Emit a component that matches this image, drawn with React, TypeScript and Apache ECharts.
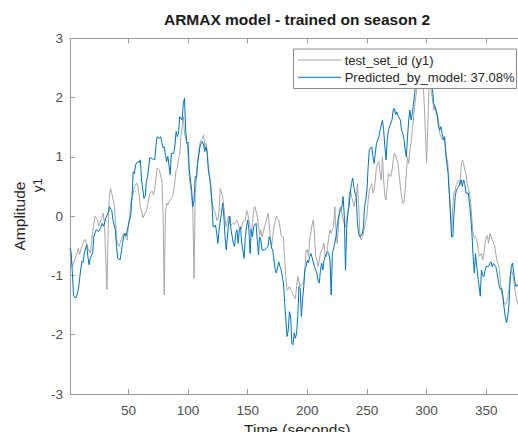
import React, { useEffect, useRef } from "react";
import * as echarts from "echarts";

const FONT = "'Liberation Sans', Arial, Helvetica, sans-serif";

const titleText = "ARMAX model - trained on season 2";
const xAxisTitle = "Time (seconds)";
const yGroupTitle = "Amplitude";
const yAxisTitle = "y1";
const measuredName = "test_set_id (y1)";
const predictedName = "Predicted_by_model: 37.08%";
const xTickValues = [50, 100, 150, 200, 250, 300, 350];

const measuredT = [1,3,5,8,9,11,13,14,16,18,19,20,22,24,25,27,29,30,31,32,33,34,35,36,38,39,40,41,42,44,46,47,49,50,51,52,54,55,57,58,59,60,61,62,64,65,66,68,70,71,72,73,74,76,77,78,79,80,81,82,83,85,87,88,89,90,91,92,93,94,95,96,97,99,100,101,103,104,105,106,107,108,110,111,112,113,114,115,116,117,119,120,121,122,123,124,125,126,127,129,130,131,132,133,134,135,136,138,139,140,141,142,143,144,145,146,148,149,150,151,152,153,154,155,156,158,159,160,161,162,163,164,165,167,168,169,170,171,172,173,174,176,177,178,179,180,181,182,183,185,186,187,188,189,190,191,192,194,195,197,198,199,200,201,202,204,205,206,207,208,209,210,211,213,214,215,216,217,218,219,220,222,223,224,225,226,227,228,229,230,232,233,234,235,236,237,238,239,241,242,243,244,245,246,247,248,250,251,252,253,254,255,256,257,258,260,261,262,263,264,265,266,267,268,270,271,272,273,274,275,276,277,278,279,280,281,282,283,284,285,286,287,288,290,291,293,295,297,298,299,300,301,302,303,304,305,306,307,309,310,311,312,313,314,315,316,318,319,320,321,322,323,324,325,327,328,329,330,331,332,333,334,336,337,338,339,340,341,342,343,344,346,347,348,349,350,351,352,353,355,356,357,358,359,360,361,362,363,364,366,367,368,369,370,371,372,373,374,375,376,377,379,381,382];
const measuredY = [-0.65,-0.85,-0.74,-0.54,-0.65,-0.51,-0.4,-0.4,-0.54,-0.62,-0.46,-0.26,0,-0.06,-0.17,-0.06,0.05,-0.17,-0.74,-1.24,-0.23,0.33,0.47,0.39,0.19,-0.06,-0.37,-0.48,-0.51,-0.4,-0.29,-0.34,-0.4,-0.17,0,0.22,0.39,0.5,0.56,0.5,0.36,0.16,0.1,-0.03,0.05,0.08,0.19,0.39,0.42,0.36,0.45,0.61,0.81,0.78,0.67,0.61,0.05,-1.33,0.05,0.22,0.19,0.28,0.33,0.44,0.61,0.78,0.81,0.99,1.03,1.34,1.51,1.68,1.4,1.23,1.06,0.67,0.33,0.1,-1.05,0.4,0.61,0.95,1.23,1.29,1.31,1.37,1.17,1.23,1.12,0.84,0.5,0.22,0.16,0.1,0.05,-0.07,-0.07,0.1,0.47,0.33,0.16,-0.07,-0.18,-0.07,0,-0.12,-0.15,-0.12,-0.14,-0.09,-0.07,-0.12,-0.2,-0.23,-0.18,-0.09,-0.07,0.1,0.05,-0.07,-0.18,-0.32,-0.12,0.1,0.16,0,-0.18,-0.32,-0.23,-0.35,-0.29,-0.18,-0.12,0.05,-0.12,-0.37,-0.51,-0.35,-0.18,-0.09,0,-0.07,-0.18,-0.32,-0.35,-0.35,-0.74,-1.02,-1.25,-1.19,-1.25,-1.27,-1.33,-1.36,-1.39,-1.19,-1.02,-1.19,-1.15,-1.13,-0.85,-0.57,-0.57,-0.68,-0.4,-0.15,-0.06,-0.29,-0.68,-0.74,-0.85,-0.74,-0.63,-0.52,-0.46,-0.68,-0.68,-0.52,-0.35,-0.23,-0.29,-0.18,0.16,-0.23,-0.46,-0.23,0.13,0.16,0.05,-0.06,-0.18,-0.06,0.05,0.33,0.44,0.33,0.27,0.16,0.33,0.55,0.22,-0.29,-0.4,-0.35,-0.29,-0.18,0,0.27,0.44,0.5,0.55,0.39,0.44,0.61,0.84,0.92,0.72,0.61,1,0.61,0.33,0.27,0.5,0.72,0.67,0.78,0.95,1.06,1.03,0.95,0.9,0.7,0.5,0.33,0.22,0.22,0.44,0.72,1,0.89,1.12,1.23,1.45,1.85,2.02,2.3,2.45,2.3,1.9,1.4,0.9,1.5,2.2,2.35,2.1,1.96,1.79,1.85,1.73,1.62,1.4,1.34,1.29,1.29,1.34,1.12,0.84,0.44,0.16,-0.23,0.16,0.39,0.44,0.55,0.61,0.52,0.84,0.95,0.89,0.78,0.72,0.55,0.39,0.22,-0.06,-0.29,-0.37,-0.35,-0.4,-0.52,-0.68,-0.63,-0.74,-0.63,-0.46,-0.35,-0.33,-0.46,-0.29,-0.4,-0.45,-0.5,-0.63,-0.74,-0.8,-0.91,-1.13,-1.3,-1.41,-1.49,-1.47,-1.36,-1.24,-1.02,-0.91,-0.96,-1.07,-1.24,-1.35,-1.45,-1.5,-1.58,-1.6,-1.55];

const predictedT = [1,2,3,4,6,8,10,11,12,13,15,16,17,18,20,21,23,25,26,28,29,30,31,33,34,35,36,37,39,40,41,43,44,46,47,48,49,51,52,53,54,55,56,58,59,60,61,63,64,65,66,68,70,72,73,74,76,77,79,80,81,82,83,85,86,88,89,90,91,92,93,95,96,97,98,99,100,101,103,104,105,106,107,108,110,111,112,113,114,115,116,117,119,120,121,122,123,124,125,126,128,129,130,131,132,133,134,135,136,138,139,140,141,142,143,144,145,147,148,149,150,151,152,153,154,155,157,158,159,160,161,162,164,166,167,168,169,170,171,172,173,174,176,177,178,179,180,181,182,183,184,185,186,187,188,189,190,191,192,193,194,195,196,197,198,199,200,201,202,203,204,206,208,209,210,211,212,213,214,215,216,217,218,219,220,221,223,224,225,226,227,228,229,230,231,232,233,234,235,236,237,238,239,240,241,242,243,244,246,247,248,249,250,251,252,254,255,256,257,258,259,260,261,263,264,265,266,267,268,270,271,272,273,274,275,276,278,279,280,281,282,283,284,285,286,287,288,290,292,294,296,298,300,302,304,305,306,307,309,310,311,312,313,314,315,316,318,319,320,321,322,323,324,325,326,328,329,330,331,332,333,335,336,337,338,339,340,341,342,343,345,346,347,348,349,350,352,353,354,355,356,358,359,360,361,362,363,364,365,366,367,368,369,370,371,372,373,374,375,376,377,379,381,382];
const predictedY = [-0.54,-0.62,-0.96,-1.35,-1.38,-1.24,-0.9,-0.76,-0.78,-0.62,-0.48,-0.68,-0.82,-0.71,-0.62,-0.34,-0.23,-0.26,-0.23,-0.12,-0.17,-0.12,-0.03,0.05,0.16,0.12,0.1,-0.06,-0.23,-0.51,-0.71,-0.74,-0.6,-0.34,-0.29,-0.34,-0.23,-0.06,0.02,0.33,0.75,0.72,0.87,0.92,0.9,0.95,0.61,0.3,0.33,0.58,0.67,0.99,0.97,0.95,1.17,1.34,1.31,1.34,1.15,1.17,1.03,0.92,1.01,0.7,1.06,1.06,1.2,1.43,1.34,1.4,1.68,1.62,1.9,1.99,1.45,1.23,1.25,0.78,0.44,0.16,0.27,0.67,0.65,0.89,1.17,1.23,1.26,1.2,1.09,1.17,1.06,0.78,0.52,0.22,-0.18,-0.18,-0.15,-0.29,-0.46,-0.23,0.05,0.22,0,-0.35,-0.57,-0.35,-0.12,0,-0.23,-0.46,-0.51,-0.29,-0.23,-0.46,-0.23,-0.18,-0.46,-0.71,-0.35,-0.18,-0.07,-0.23,-0.63,-0.23,-0.35,-0.18,-0.12,-0.4,-0.65,-0.35,-0.4,-0.57,-0.57,-0.54,-0.51,-0.35,-0.4,-0.54,-0.57,-0.74,-0.9,-0.96,-0.77,-0.85,-0.9,-1.02,-1.13,-1.47,-1.75,-2.03,-1.92,-1.61,-1.7,-2.14,-2.17,-1.97,-2.06,-1.97,-1.69,-1.19,-1.22,-1.69,-1.41,-1.19,-0.9,-0.85,-0.74,-0.79,-0.68,-0.63,-0.7,-0.85,-0.96,-1.1,-1.13,-0.91,-0.79,-0.91,-0.75,-0.68,-0.63,-0.6,-0.63,-0.74,-1.33,-0.63,-0.46,-0.35,-0.18,-0.03,0.05,0.11,0.16,0.33,0,-0.91,-0.18,0.05,0.16,0.39,0.55,0.64,0.5,0.39,0.33,-0.12,-0.29,-0.35,-0.3,-0.18,0.16,0.27,0.44,0.84,1.12,1.17,1,0.89,1.06,1.23,1.29,1.34,1.45,1.62,1.45,1.17,0.95,1.29,1.45,1.57,1.62,1.79,1.82,1.71,1.76,1.7,1.62,1.45,1.4,1.3,1.12,1,1.34,1.62,1.79,1.62,1.73,2.07,2.45,2.6,2.5,2.65,2.55,2.45,2.2,2.13,1.9,1.85,1.68,1.51,1.45,1.51,1.4,1.29,1.34,1.06,0.72,0.39,0,-0.35,-0.35,0.05,0.33,0.44,0.47,0.55,0.61,0.5,0.61,0.55,0.39,0.39,0.2,0,-0.29,-0.68,-0.96,-0.63,-0.85,-1.02,-1.35,-0.91,-1,-1.02,-0.91,-0.85,-0.85,-0.8,-0.77,-0.85,-0.8,-0.85,-0.95,-1.07,-1.19,-1.24,-1.22,-1.35,-1.55,-1.7,-1.8,-1.7,-1.5,-1.1,-0.85,-0.79,-0.95,-1.1,-1.19,-1.15,-1.18,-1.2,-1.15,-1.22];

const measuredColor = "#a6a6a6";
const predictedColor = "#0072bd";

const zip = (t: number[], y: number[]) => t.map((v, i) => [v, y[i]]);

export default function App() {
  const ref = useRef<HTMLDivElement>(null);
  useEffect(() => {
    if (!ref.current) return;
    const chart = echarts.init(ref.current, undefined, { renderer: "svg" });
    const axisColor = "#9a9a9a";
    const labelColor = "#4d4d4d";
    const legendX = 293.5;
    const legendY = 49;
    chart.setOption({
      animation: false,
      backgroundColor: "#ffffff",
      title: {
        text: titleText,
        left: 297,
        top: 11,
        padding: 0,
        textAlign: "center",
        textStyle: { fontFamily: FONT, fontSize: 15.5, fontWeight: "bold", color: "#1a1a1a" },
      },
      grid: { left: 70, top: 38.3, right: -6.4, bottom: 38, containLabel: false, outerBoundsMode: "none" },
      xAxis: [
        {
          type: "value",
          min: 1,
          max: 382,
          name: xAxisTitle,
          nameLocation: "middle",
          nameGap: 21,
          nameTextStyle: { fontFamily: FONT, fontSize: 15.5, color: "#262626" },
          axisLine: { show: true, onZero: false, lineStyle: { color: axisColor, width: 1 } },
          axisTick: { show: true, inside: true, length: 5, customValues: xTickValues, lineStyle: { color: axisColor } },
          axisLabel: { show: true, customValues: xTickValues, margin: 9, fontFamily: FONT, fontSize: 13.5, color: labelColor },
          splitLine: { show: false },
        },
        {
          type: "value",
          position: "top",
          min: 1,
          max: 382,
          axisLine: { show: true, onZero: false, lineStyle: { color: axisColor, width: 1 } },
          axisTick: { show: true, inside: true, length: 5, customValues: xTickValues, lineStyle: { color: axisColor } },
          axisLabel: { show: false },
          splitLine: { show: false },
        },
      ],
      yAxis: {
        type: "value",
        min: -3,
        max: 3,
        interval: 1,
        axisLine: { show: true, onZero: false, lineStyle: { color: axisColor, width: 1 } },
        axisTick: { show: true, inside: true, length: 5, lineStyle: { color: axisColor } },
        axisLabel: { show: true, margin: 7, fontFamily: FONT, fontSize: 13.5, color: labelColor },
        splitLine: { show: false },
      },
      graphic: [
        {
          type: "text",
          x: 19,
          y: 216,
          rotation: Math.PI / 2,
          style: { text: yGroupTitle, fontFamily: FONT, fontSize: 15.5, fill: "#262626", align: "center", verticalAlign: "middle" },
        },
        {
          type: "text",
          x: 37,
          y: 185,
          rotation: Math.PI / 2,
          style: { text: yAxisTitle, fontFamily: FONT, fontSize: 13.5, fill: "#262626", align: "center", verticalAlign: "middle" },
        },
        {
          type: "group",
          z: 50,
          children: [
            {
              type: "rect",
              z: 50,
              shape: { x: legendX, y: legendY, width: 223, height: 39.5 },
              style: { fill: "#ffffff", stroke: "#8c8c8c", lineWidth: 1 },
            },
            {
              type: "line",
              z: 51,
              shape: { x1: legendX + 4.5, y1: legendY + 11, x2: legendX + 48, y2: legendY + 11 },
              style: { stroke: measuredColor, lineWidth: 1 },
            },
            {
              type: "line",
              z: 51,
              shape: { x1: legendX + 4.5, y1: legendY + 28.3, x2: legendX + 48, y2: legendY + 28.3 },
              style: { stroke: predictedColor, lineWidth: 1 },
            },
            {
              type: "text",
              z: 51,
              x: legendX + 51.2,
              y: legendY + 11,
              style: { text: measuredName, fontFamily: FONT, fontSize: 13, fill: "#262626", align: "left", verticalAlign: "middle" },
            },
            {
              type: "text",
              z: 51,
              x: legendX + 51.2,
              y: legendY + 28.3,
              style: { text: predictedName, fontFamily: FONT, fontSize: 13, fill: "#262626", align: "left", verticalAlign: "middle" },
            },
          ],
        },
      ],
      series: [
        {
          name: measuredName,
          type: "line",
          data: zip(measuredT, measuredY),
          symbol: "none",
          showSymbol: false,
          lineStyle: { color: measuredColor, width: 1 },
          itemStyle: { color: measuredColor },
          z: 2,
        },
        {
          name: predictedName,
          type: "line",
          data: zip(predictedT, predictedY),
          symbol: "none",
          showSymbol: false,
          lineStyle: { color: predictedColor, width: 1 },
          itemStyle: { color: predictedColor },
          z: 3,
        },
      ],
    });
    return () => chart.dispose();
  }, []);
  return <div ref={ref} style={{ position: "fixed", left: 0, top: 0, width: 518, height: 432 }} />;
}
